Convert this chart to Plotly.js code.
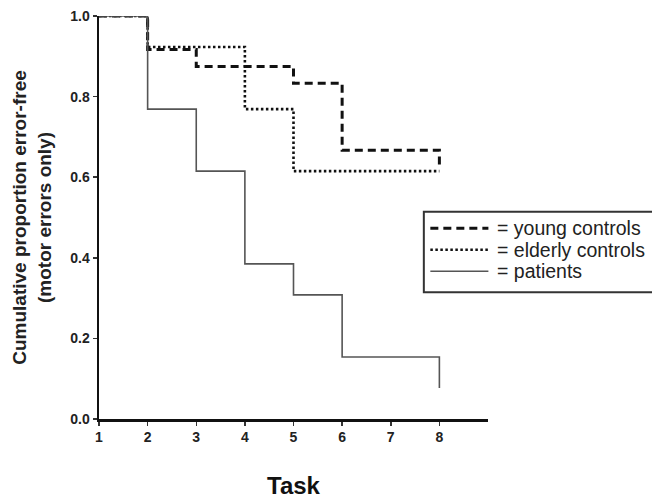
<!DOCTYPE html>
<html>
<head>
<meta charset="utf-8">
<script src="https://cdn.plot.ly/plotly-3.0.1.min.js"></script>
<style>html,body{margin:0;padding:0;background:#fff;}#chart{width:652px;height:499px;}</style>
</head>
<body>
<div id="chart"></div>
<script>
// Task numbers and cumulative proportion error-free (step data)
var youngTasks = [1, 2, 3, 5, 6, 8];
var youngValues = [1.0, 0.917, 0.875, 0.833, 0.667, 0.625];

var elderlyTasks = [1, 2, 4, 5, 8];
var elderlyValues = [1.0, 0.923, 0.769, 0.615, 0.615];

var patientTasks = [1, 2, 3, 4, 5, 6, 8];
var patientValues = [1.0, 0.769, 0.615, 0.385, 0.308, 0.154, 0.077];

var xTickVals = [1, 2, 3, 4, 5, 6, 7, 8];
var yTickVals = [0, 0.2, 0.4, 0.6, 0.8, 1.0];
var yTickText = ["0.0", "0.2", "0.4", "0.6", "0.8", "1.0"];

var seriesNames = ["young controls", "elderly controls", "patients"];

var FONT = "Arial, 'Liberation Sans', Helvetica, sans-serif";

var W = 652, H = 499;
var M = {l: 99, r: 164.4, t: 15.5, b: 80};
var plotW = W - M.l - M.r, plotH = H - M.t - M.b;
// convert page pixels to paper coordinates (for the hand-drawn legend box)
function px(x) { return (x - M.l) / plotW; }
function py(y) { return (H - M.b - y) / plotH; }

var styles = [
  {color: "#111", width: 3, dash: "8px,5px"},
  {color: "#111", width: 2.6, dash: "2.5px,2.5px"},
  {color: "#555", width: 1.6, dash: "solid"}
];
var seriesX = [youngTasks, elderlyTasks, patientTasks];
var seriesY = [youngValues, elderlyValues, patientValues];

var traces = seriesNames.map(function (name, i) {
  return {
    x: seriesX[i], y: seriesY[i], name: name,
    type: "scatter", mode: "lines", showlegend: false,
    line: {shape: "hv", color: styles[i].color, width: styles[i].width, dash: styles[i].dash}
  };
});

// legend (box, sample lines, labels)
var shapes = [{
  type: "rect", xref: "paper", yref: "paper",
  x0: px(423.5), x1: px(660), y0: py(211.5), y1: py(292),
  line: {color: "#333", width: 2}, fillcolor: "#fff", layer: "above"
}];
var annotations = [];
var rowY = [228, 249.5, 271];
seriesNames.forEach(function (name, i) {
  shapes.push({
    type: "line", xref: "paper", yref: "paper",
    x0: px(430), x1: px(488), y0: py(rowY[i]), y1: py(rowY[i]),
    line: {color: styles[i].color, width: styles[i].width, dash: styles[i].dash},
    layer: "above"
  });
  annotations.push({
    xref: "paper", yref: "paper", x: px(495), y: py(rowY[i]),
    xanchor: "left", yanchor: "middle", showarrow: false,
    text: "= " + name,
    font: {family: FONT, size: 19.5, color: "#222"}
  });
});

var layout = {
  width: W, height: H,
  margin: {l: M.l, r: M.r, t: M.t, b: M.b, pad: 0},
  paper_bgcolor: "#fff", plot_bgcolor: "#fff",
  font: {family: FONT, color: "#222"},
  showlegend: false,
  shapes: shapes,
  annotations: annotations,
  xaxis: {
    range: [1, 9], tickvals: xTickVals,
    showgrid: false, zeroline: false,
    showline: true, linecolor: "#111", linewidth: 2.5,
    ticks: "outside", ticklen: 4, tickwidth: 1.5, tickcolor: "#333",
    tickfont: {family: FONT, size: 14, color: "#222", weight: "bold"},
    title: {text: "<b>Task</b>", font: {family: FONT, size: 24, color: "#111"}, standoff: 34}
  },
  yaxis: {
    range: [0, 1], tickvals: yTickVals, ticktext: yTickText,
    showgrid: false, zeroline: false,
    showline: true, linecolor: "#111", linewidth: 2.5,
    ticks: "outside", ticklen: 4, tickwidth: 1.5, tickcolor: "#333",
    tickfont: {family: FONT, size: 14, color: "#222", weight: "bold"},
    title: {text: "<b>Cumulative proportion error-free<br>(motor errors only)</b>", font: {family: FONT, size: 19, color: "#222"}, standoff: 14}
  }
};

Plotly.newPlot("chart", traces, layout, {displayModeBar: false, staticPlot: true});
</script>
</body>
</html>
